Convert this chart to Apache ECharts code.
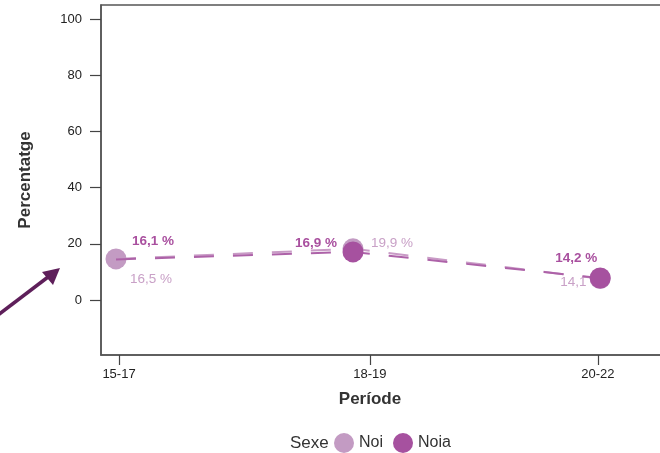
<!DOCTYPE html>
<html>
<head>
<meta charset="utf-8">
<script src="https://cdn.jsdelivr.net/npm/echarts@6/dist/echarts.min.js"></script>
<style>html,body{margin:0;padding:0;background:#fff}#c{width:660px;height:453px}</style>
</head>
<body>
<div id="c"></div>
<script>
// ---- data ----
const periods = ['15-17', '18-19', '20-22'];
const periodTickPos = [3, 44.8, 82.8];      // axis positions of period ticks
const pointPos = [2.5, 42, 83.2];           // axis positions of plotted points
const noiValues = [14.6, 18.2, 7.6];
const noiaValues = [14.4, 17.1, 7.8];
const noiLabels = ['16,5 %', '19,9 %', '14,1 %'];
const noiaLabels = ['16,1 %', '16,9 %', '14,2 %'];
const yTicks = [0, 20, 40, 60, 80, 100];

// ---- styles ----
const FONT = '"Liberation Sans", Arial, Helvetica, sans-serif';
const noiColor = '#c39bc3';
const noiaColor = '#a6519f';
const noiLabelOffsets = [[35, 20], [39, -6], [-19, 4]];
const noiaLabelOffsets = [[37, -18], [-37, -9], [-24, -20]];

function build(vals, labels, offsets) {
  return vals.map((v, i) => ({
    value: [pointPos[i], v],
    labelText: labels[i],
    label: { offset: offsets[i] }
  }));
}

const chart = echarts.init(document.getElementById('c'), null, { renderer: 'canvas' });
chart.setOption({
  animation: false,
  backgroundColor: '#fff',
  textStyle: { fontFamily: FONT },
  grid: { left: 101, top: 5, width: 600, height: 350, outerBoundsMode: 'none', containLabel: false,
          show: true, borderColor: '#555', borderWidth: 1.5, backgroundColor: 'transparent' },
  xAxis: {
    type: 'value', min: 0, max: 100,
    name: 'Període', nameLocation: 'middle', nameGap: 36,
    nameTextStyle: { fontFamily: FONT, fontSize: 17, fontWeight: 'bold', color: '#333', padding: [0, 62, 0, 0] },
    axisLine: { onZero: false, lineStyle: { color: '#555', width: 1.5 } },
    axisTick: { show: true, length: 10, customValues: periodTickPos, lineStyle: { color: '#444', width: 1.2 } },
    axisLabel: {
      customValues: periodTickPos, margin: 13, fontSize: 13, color: '#222', fontFamily: FONT,
      formatter: v => { const i = periodTickPos.findIndex(t => Math.abs(t - v) < 1e-6); return i >= 0 ? periods[i] : ''; }
    },
    splitLine: { show: false }
  },
  yAxis: {
    type: 'value', min: -19.6, max: 105,
    name: 'Percentatge', nameLocation: 'middle', nameGap: 67,
    nameTextStyle: { fontFamily: FONT, fontSize: 17, fontWeight: 'bold', color: '#333' },
    axisLine: { show: true, lineStyle: { color: '#555', width: 1.5 } },
    axisTick: { show: true, length: 11, customValues: yTicks, lineStyle: { color: '#444', width: 1.2 } },
    axisLabel: { customValues: yTicks, margin: 19, fontSize: 13, color: '#222', fontFamily: FONT },
    splitLine: { show: false }
  },
  legend: {
    data: ['Noi', 'Noia'], left: 334, top: 433, padding: 0, icon: 'circle',
    itemWidth: 20, itemHeight: 20, itemGap: 10,
    textStyle: { fontFamily: FONT, fontSize: 16, color: '#333' }
  },
  graphic: [
    { type: 'text', left: 290, top: 435, style: { text: 'Sexe', fontFamily: FONT, fontSize: 17, fill: '#333' } },
    { type: 'line', shape: { x1: -2, y1: 315, x2: 52, y2: 274 }, style: { stroke: '#5e1f5a', lineWidth: 3.5 } },
    { type: 'polygon', shape: { points: [[60, 268], [42, 272], [53, 285]] }, style: { fill: '#5e1f5a' } }
  ],
  series: [
    {
      name: 'Noi', type: 'line', z: 2,
      data: build(noiValues, noiLabels, noiLabelOffsets),
      symbol: 'circle', symbolSize: 21,
      itemStyle: { color: noiColor },
      lineStyle: { color: '#c99bc6', width: 2, type: [20, 19] },
      label: {
        show: true, position: 'inside', fontFamily: FONT, fontSize: 13.5, color: '#c9a1c7',
        formatter: p => p.data.labelText
      }
    },
    {
      name: 'Noia', type: 'line', z: 3,
      data: build(noiaValues, noiaLabels, noiaLabelOffsets),
      symbol: 'circle',
      symbolSize: (v, p) => (p.dataIndex === 0 ? 0 : 21),
      itemStyle: { color: noiaColor },
      lineStyle: { color: '#ad62a8', width: 2, type: [20, 19] },
      label: {
        show: true, position: 'inside', fontFamily: FONT, fontSize: 13.5, fontWeight: 'bold', color: '#a9509f',
        formatter: p => p.data.labelText
      }
    }
  ]
});
</script>
</body>
</html>
